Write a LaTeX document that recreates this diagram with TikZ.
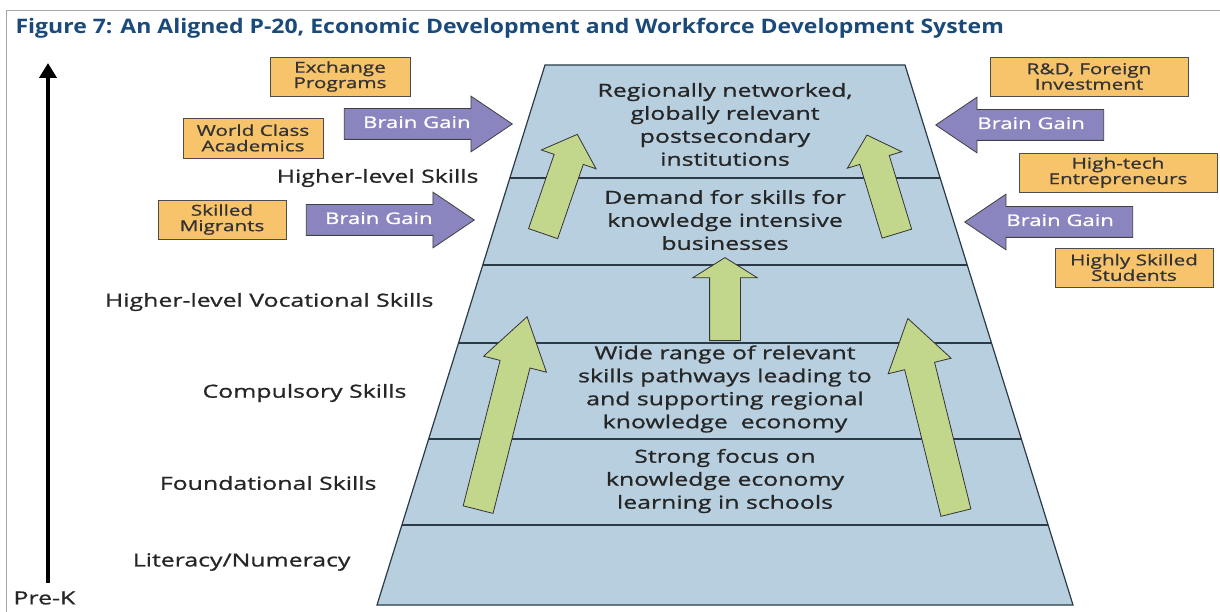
\documentclass[tikz,border=0pt]{standalone}
\usepackage{fontspec}
\setmainfont{Open Sans}[FakeStretch=1.38, FakeBold=1]
\newfontfamily\titlefont{Open Sans}[FakeStretch=1.15]
\usetikzlibrary{arrows.meta,shapes.arrows}

\definecolor{tierblue}{HTML}{B7CFDF}
\definecolor{tierline}{HTML}{2B3A48}
\definecolor{leafgreen}{HTML}{C3D78C}
\definecolor{gainpurple}{HTML}{8A85BE}
\definecolor{boxorange}{HTML}{F7C46C}
\definecolor{titleblue}{HTML}{1A4A7A}

\tikzset{
  tiertext/.style={align=center, text=black!85, font=\fontsize{18}{23}\selectfont},
  sidelabel/.style={anchor=east, text=black!85, font=\fontsize{18}{20}\selectfont},
  sourcebox/.style={draw=black!70, fill=boxorange, line width=0.8pt, align=center,
    inner sep=0pt, text=black!80, font=\fontsize{15}{15.5}\selectfont},
  growarrow/.style={single arrow, draw=black!80, fill=leafgreen, line width=0.8pt,
    inner xsep=0pt, inner ysep=15pt, minimum width=0pt, anchor=tail},
  gainarrow/.style={single arrow, draw=black!75, fill=gainpurple, line width=0.8pt,
    inner xsep=0pt, inner ysep=7pt, text height=12pt, text depth=4pt, minimum width=0pt,
    single arrow head extend=12.5pt, single arrow tip angle=68, minimum height=168pt,
    anchor=tip, text=white, font=\fontsize{16}{16}\selectfont}
}

\begin{document}
\begin{tikzpicture}[x=1pt, y=-1pt]
  \useasboundingbox (0,0) rectangle (1220,612);
  \draw[black!35, line width=1pt] (1220,11) -- (6,11) -- (6,612);

  \node[anchor=west, text=titleblue, font=\titlefont\bfseries\fontsize{20}{21}\selectfont] (title) at (12,28)
    {Figure 7: An Aligned P-20, Economic Development and Workforce Development System};

  % axis on the left
  \coordinate (axisbot) at (48,583);
  \coordinate (axistop) at (48,63);
  \draw[line width=4pt, -{Triangle[width=17pt,length=15pt]}] (axisbot) -- (axistop);
  \node[anchor=west, text=black!85, font=\fontsize{18}{20}\selectfont] (prek) at (10,598) {Pre-K};

  % pyramid
  \filldraw[fill=tierblue, draw=tierline, line width=1.2pt]
    (545,65) -- (905,65) -- (1073,605) -- (377,605) -- cycle;
  \foreach \y in {178,265,343,439,525} {
    \pgfmathsetmacro\hw{180+0.3111*(\y-65)}
    \draw[tierline, line width=1.2pt] ({725-\hw},\y) -- ({725+\hw},\y);
  }

  \foreach \x/\y/\t in {482/178/{Higher-level Skills}, 437/302/{Higher-level Vocational Skills},
                       410/393/{Compulsory Skills}, 380/483/{Foundational Skills},
                       354/562/{Literacy/Numeracy}}
    \node[sidelabel] (side-\y) at (\x,\y) {\t};

  \node[tiertext] (tierA) at (725,124.5) {Regionally networked,\\globally relevant\\postsecondary\\institutions};
  \node[tiertext] (tierB) at (725,220) {Demand for skills for\\knowledge intensive\\businesses};
  \node[tiertext] (tierD) at (725,389) {Wide range of relevant\\skills pathways leading to\\and supporting regional\\knowledge\ \ economy};
  \node[tiertext] (tierE) at (725,481) {Strong focus on\\knowledge economy\\learning in schools};

  % green arrows
  \node[growarrow, single arrow head extend=17pt, single arrow tip angle=67,
        minimum height=199pt, rotate=75.75] (riseL) at (478,510) {};
  \node[growarrow, single arrow head extend=17pt, single arrow tip angle=67,
        minimum height=200pt, rotate=103.9] (riseR) at (956,513) {};
  \node[growarrow, single arrow head extend=13.5pt, single arrow tip angle=95,
        minimum height=105pt, rotate=71] (riseUL) at (543,234) {};
  \node[growarrow, single arrow head extend=13pt, single arrow tip angle=95,
        minimum height=103pt, rotate=106.9] (riseUR) at (897,234) {};
  \node[growarrow, single arrow head extend=17pt, single arrow tip angle=116,
        minimum height=83pt, rotate=90] (riseC) at (725,341) {};

  % sources
  \node[sourcebox, minimum width=140pt, minimum height=39pt] (exch) at (340,76.5) {Exchange\\Programs};
  \node[sourcebox, minimum width=140pt, minimum height=40pt] (world) at (253,138) {World Class\\Academics};
  \node[sourcebox, minimum width=128pt, minimum height=39pt] (skilled) at (222,219.5) {Skilled\\Migrants};
  \node[sourcebox, minimum width=198pt, minimum height=39pt] (rnd) at (1089,76.5) {R\&D, Foreign\\Investment};
  \node[sourcebox, minimum width=198pt, minimum height=39pt] (hitech) at (1118,172.5) {High-tech\\Entrepreneurs};
  \node[sourcebox, minimum width=158pt, minimum height=39pt] (students) at (1134,267.5) {Highly Skilled\\Students};

  % brain gain
  \node[gainarrow] (gainUL) at (513,124) {Brain Gain};
  \node[gainarrow] (gainLL) at (475,220) {Brain Gain};
  \node[gainarrow, shape border rotate=180] (gainUR) at (935,125) {Brain Gain};
  \node[gainarrow, shape border rotate=180] (gainLR) at (964,222) {Brain Gain};
\end{tikzpicture}
\end{document}
